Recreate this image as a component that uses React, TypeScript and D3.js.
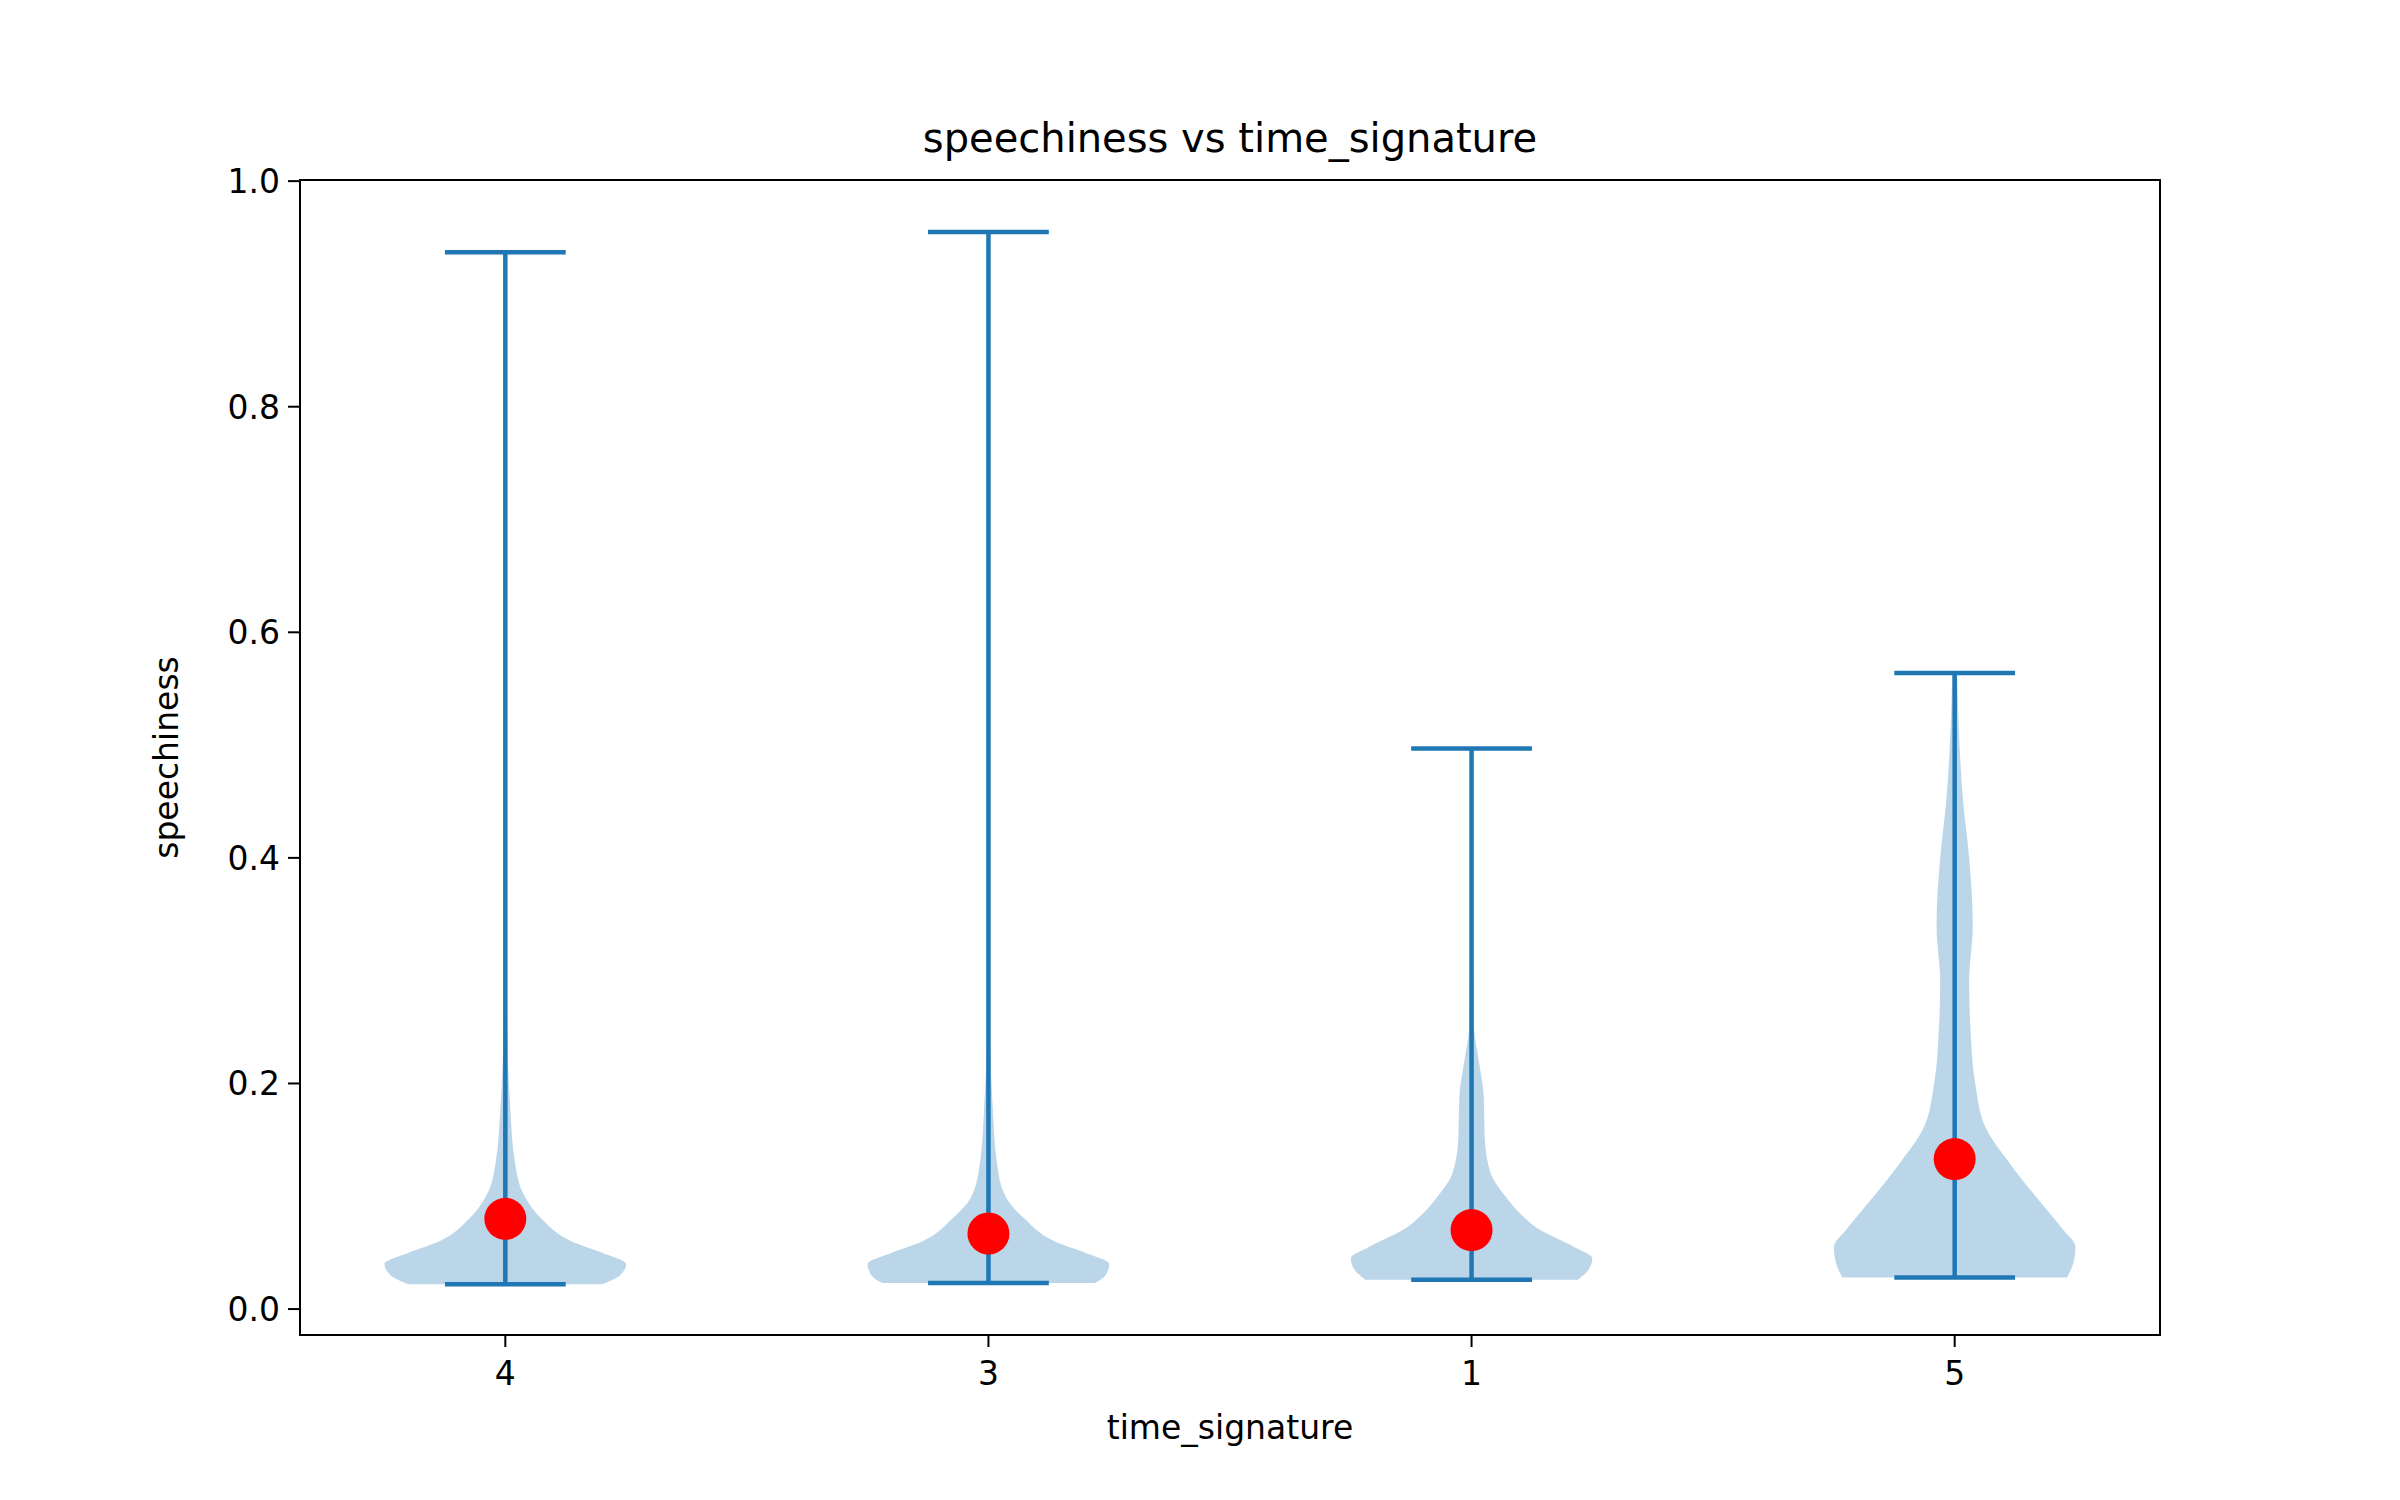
import * as d3 from "d3";

const categories = ["4", "3", "1", "5"];
const mins = [0.022, 0.023, 0.026, 0.028];
const maxs = [0.937, 0.955, 0.497, 0.564];
const means = [0.08, 0.067, 0.07, 0.133];
// density profiles: [value, relative half-width]
const profiles: [number, number][][] = [
  [[0.022, 0.8], [0.03, 0.95], [0.04, 1.0], [0.05, 0.8], [0.06, 0.55], [0.08, 0.3], [0.1, 0.16], [0.13, 0.08], [0.18, 0.04], [0.25, 0.015], [0.4, 0.006], [0.937, 0.003]],
  [[0.023, 0.88], [0.03, 0.97], [0.04, 1.0], [0.05, 0.8], [0.06, 0.55], [0.08, 0.3], [0.1, 0.14], [0.13, 0.07], [0.18, 0.035], [0.25, 0.012], [0.4, 0.005], [0.955, 0.003]],
  [[0.026, 0.88], [0.035, 0.97], [0.045, 1.0], [0.055, 0.85], [0.07, 0.57], [0.085, 0.4], [0.1, 0.28], [0.12, 0.16], [0.15, 0.11], [0.19, 0.1], [0.22, 0.06], [0.25, 0.02], [0.35, 0.008], [0.497, 0.004]],
  [[0.028, 0.93], [0.04, 0.98], [0.055, 1.0], [0.07, 0.9], [0.1, 0.67], [0.13, 0.45], [0.16, 0.26], [0.2, 0.17], [0.25, 0.13], [0.29, 0.12], [0.34, 0.15], [0.4, 0.12], [0.45, 0.07], [0.5, 0.04], [0.564, 0.02]],
];
const yTicks = [0, 0.2, 0.4, 0.6, 0.8, 1.0];

const W = 2400, H = 1500;
const L = 300, R = 2160, T = 180, B = 1335;
const blue = "#1f77b4";

export default function App() {
  const x = d3.scaleLinear().domain([0.575, 4.425]).range([L, R]);
  const y = d3.scaleLinear().domain([-0.023, 1.001]).range([B, T]);
  const unit = x(1) - x(0);
  const font = "DejaVu Sans, sans-serif";

  return (
    <svg width={W} height={H} style={{ position: "absolute", left: 0, top: 0, background: "#fff" }}>
      {categories.map((c, i) => {
        const cx = x(i + 1);
        const area = d3
          .area<[number, number]>()
          .y((d) => y(d[0]))
          .x0((d) => cx - d[1] * 0.25 * unit)
          .x1((d) => cx + d[1] * 0.25 * unit)
          .curve(d3.curveMonotoneY);
        const cap = 0.125 * unit;
        return (
          <g key={c}>
            <path d={area(profiles[i]) || ""} fill={blue} fillOpacity={0.3} />
            <line x1={cx} x2={cx} y1={y(mins[i])} y2={y(maxs[i])} stroke={blue} strokeWidth={4.5} />
            <line x1={cx - cap} x2={cx + cap} y1={y(mins[i])} y2={y(mins[i])} stroke={blue} strokeWidth={4.5} />
            <line x1={cx - cap} x2={cx + cap} y1={y(maxs[i])} y2={y(maxs[i])} stroke={blue} strokeWidth={4.5} />
            <circle cx={cx} cy={y(means[i])} r={21} fill="red" />
          </g>
        );
      })}
      <rect x={L} y={T} width={R - L} height={B - T} fill="none" stroke="#000" strokeWidth={2} />
      {yTicks.map((t) => (
        <g key={t}>
          <line x1={L - 12} x2={L} y1={y(t)} y2={y(t)} stroke="#000" strokeWidth={2} />
          <text x={L - 20} y={y(t)} dy="0.36em" textAnchor="end" fontSize={33} fontFamily={font}>
            {t.toFixed(1)}
          </text>
        </g>
      ))}
      {categories.map((c, i) => (
        <g key={c}>
          <line x1={x(i + 1)} x2={x(i + 1)} y1={B} y2={B + 12} stroke="#000" strokeWidth={2} />
          <text x={x(i + 1)} y={B + 50} textAnchor="middle" fontSize={33} fontFamily={font}>
            {c}
          </text>
        </g>
      ))}
      <text x={(L + R) / 2} y={B + 104} textAnchor="middle" fontSize={33} fontFamily={font}>
        time_signature
      </text>
      <text transform={`translate(${L - 122},${(T + B) / 2}) rotate(-90)`} textAnchor="middle" fontSize={33} fontFamily={font}>
        speechiness
      </text>
      <text x={(L + R) / 2} y={T - 28} textAnchor="middle" fontSize={40} fontFamily={font}>
        speechiness vs time_signature
      </text>
    </svg>
  );
}
